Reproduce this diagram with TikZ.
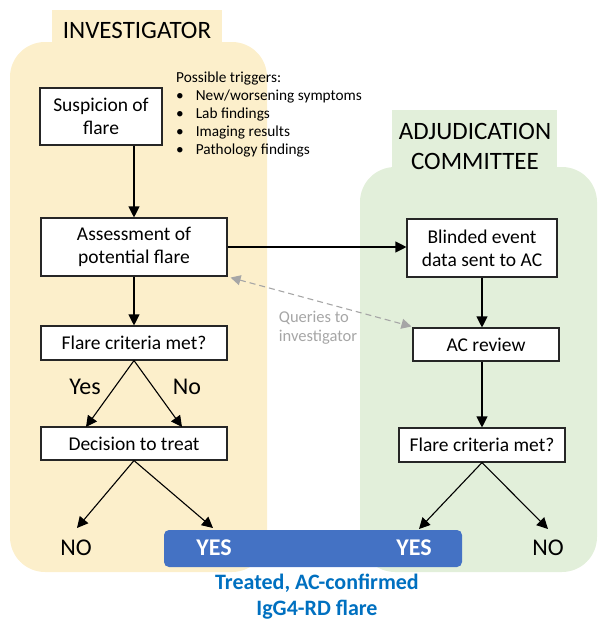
\documentclass[tikz,border=0pt]{standalone}
\usepackage{fontspec}
\setmainfont{Carlito}
\usetikzlibrary{arrows.meta,positioning}
\definecolor{invY}{HTML}{FCEFCB}
\definecolor{acG}{HTML}{E2EFDA}
\definecolor{barB}{HTML}{4472C4}
\definecolor{txtB}{HTML}{0070C0}
\definecolor{qGray}{HTML}{A6A6A6}
\tikzset{
  box/.style={draw=black!85, line width=1.1pt, fill=white, inner sep=2pt, align=center, font=\fontsize{19.5}{23}\selectfont},
  arr/.style={line width=1.1pt, -{Triangle[length=11pt,width=11pt]}},
  qarr/.style={line width=1.1pt, qGray, dash pattern=on 6pt off 4pt, {Triangle[length=10pt,width=10pt]}-{Triangle[length=10pt,width=10pt]}},
  lbl/.style={font=\fontsize{24}{26}\selectfont, inner sep=0pt},
  head/.style={font=\fontsize{25}{30}\selectfont, align=center, inner sep=0pt},
  yes/.style={font=\fontsize{24}{26}\selectfont\bfseries, text=white, inner sep=0pt},
}
\begin{document}
\begin{tikzpicture}[x=1pt,y=-1pt]
\useasboundingbox (0,0) rectangle (598,622);
% panels
\fill[invY] (52,10) rectangle (222,60);
\fill[invY, rounded corners=35pt] (10,42) rectangle (267,572);
\fill[acG] (392,110) rectangle (557,185);
\fill[acG, rounded corners=35pt] (360,167) rectangle (597,572);
\node[head] (invh) at (137,30) {INVESTIGATOR};
\node[head] (ach) at (475,146) {ADJUDICATION\\COMMITTEE};
% blue bar
\fill[barB, rounded corners=5pt] (164,530) rectangle (462,567);
% boxes
\node[box, minimum width=122pt, minimum height=57pt] (susp) at (101,116.5) {Suspicion of\\flare};
\node[box, minimum width=186pt, minimum height=58pt] (assess) at (134,247) {Assessment of\\potential flare};
\node[box, minimum width=186pt, minimum height=34pt] (fl1) at (134,343) {Flare criteria met?};
\node[box, minimum width=186pt, minimum height=33pt] (dec) at (134,443.5) {Decision to treat};
\node[box, minimum width=150pt, minimum height=58pt] (blind) at (482,248) {Blinded event\\data sent to AC};
\node[box, minimum width=146pt, minimum height=33pt] (acr) at (486,344.5) {AC review};
\node[box, minimum width=166pt, minimum height=34pt] (fl2) at (482,445) {Flare criteria met?};
% triggers
\node[anchor=north west, inner sep=0pt, font=\fontsize{15.3}{18}\selectfont] (trig) at (176,70) {%
\begin{tabular}{@{}l@{\hspace{12pt}}l@{}}
\multicolumn{2}{@{}l@{}}{Possible triggers:}\\
\textbullet & New/worsening symptoms\\
\textbullet & Lab findings\\
\textbullet & Imaging results\\
\textbullet & Pathology findings
\end{tabular}};
% labels
\node[lbl] (yes1) at (85,387) {Yes};
\node[lbl] (no1) at (187,387) {No};
\coordinate (d1) at (86,427);
\coordinate (d2) at (182,427);
\node[lbl] (noL) at (76,548) {NO};
\node[yes] (yesL) at (214,548) {YES};
\node[yes] (yesR) at (414,548) {YES};
\node[lbl] (noR) at (548,548) {NO};
\node[font=\fontsize{22}{26}\selectfont\bfseries, text=txtB, align=center, inner sep=0pt] (treated) at (317,597) {Treated, AC-confirmed\\IgG4-RD flare};
\node[font=\fontsize{16.5}{19}\selectfont, text=qGray, align=left, inner sep=0pt] (query) at (318,328) {Queries to\\investigator};
% arrows
\draw[arr] (susp.south -| assess.north) -- (assess.north);
\draw[arr] (assess.south) -- (fl1.north);
\draw[arr] (fl1.south) -- (d1);
\draw[arr] (fl1.south) -- (d2);
\coordinate (t1) at (77,528);
\coordinate (t2) at (213,528);
\draw[arr] (dec.south) -- (t1);
\draw[arr] (dec.south) -- (t2);
\draw[arr] (assess.east) -- (assess.east -| blind.west);
\draw[arr] (blind.south) -- (blind.south |- acr.north);
\draw[arr] (acr.south -| fl2.north) -- (fl2.north);
\coordinate (t3) at (419,529);
\coordinate (t4) at (548,529);
\draw[arr] (fl2.south) -- (t3);
\draw[arr] (fl2.south) -- (t4);
\draw[qarr] ([xshift=3pt,yshift=-1pt]assess.south east) -- ([xshift=-1pt,yshift=1pt]acr.north west);
\end{tikzpicture}
\end{document}
